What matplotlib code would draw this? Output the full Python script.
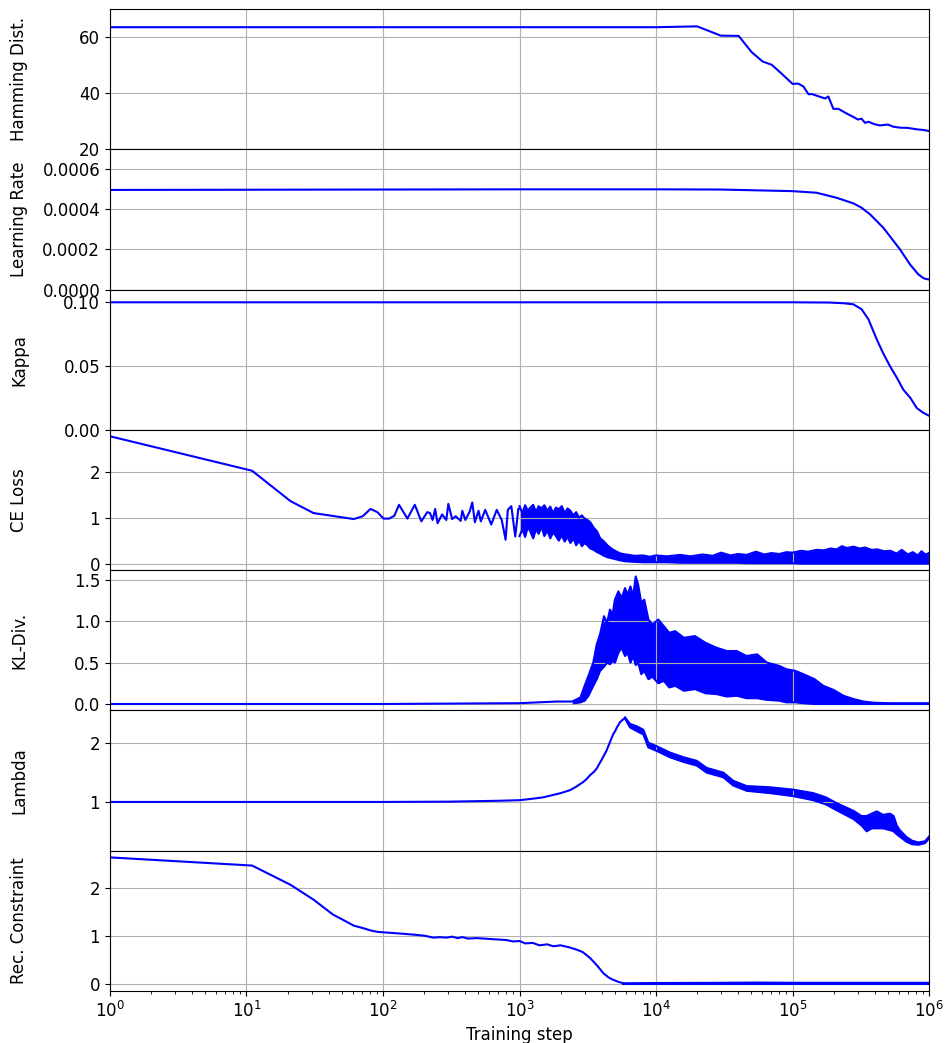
import matplotlib
matplotlib.use("Agg")
import matplotlib.pyplot as plt

# Hamming distance
ham_steps = [1, 1e4, 2.0e4, 2.98e4, 4.03e4, 5.02e4, 6.03e4, 7.04e4, 8.34e4, 1.0e5, 1.1e5, 1.2e5,
             1.31e5, 1.38e5, 1.73e5, 1.83e5, 1.99e5, 2.17e5, 2.5e5, 2.87e5, 3.0e5, 3.2e5, 3.4e5,
             3.6e5, 4.0e5, 4.37e5, 5e5, 5.5e5, 6.13e5, 7e5, 8.13e5, 9e5, 1e6]
ham_vals = [63.5, 63.5, 63.8, 60.5, 60.4, 54.6, 51.3, 50.1, 46.9, 43.3, 43.4, 42.4,
            39.6, 39.7, 38.1, 38.8, 34.4, 34.4, 32.7, 31.2, 30.6, 30.9, 29.4,
            29.8, 28.9, 28.5, 28.8, 28.0, 27.7, 27.6, 27.1, 26.9, 26.5]

# learning rate
lr_steps = [1, 10, 100, 1e3, 1e4, 3e4, 1e5, 1.5e5, 2.1e5, 2.79e5, 3.21e5, 3.7e5, 4.63e5,
            6.13e5, 7.26e5, 8.36e5, 9.2e5, 1e6]
lr_vals = [0.000497, 0.000498, 0.000499, 0.0005, 0.0005, 0.000499, 0.000491, 0.000483, 0.000458,
           0.00043, 0.000408, 0.000375, 0.000308, 0.0002, 0.000125, 0.000075, 0.000055, 0.00005]

# kappa
kappa_steps = [1, 1e5, 1.88e5, 2.4e5, 2.79e5, 3.21e5, 3.6e5, 4.14e5, 4.6e5, 5.18e5, 5.8e5,
               6.48e5, 7.3e5, 8.13e5, 9e5, 1e6]
kappa_vals = [0.1, 0.1, 0.0998, 0.0992, 0.0984, 0.0945, 0.0866, 0.0709, 0.0603, 0.0498, 0.041,
              0.0315, 0.025, 0.0171, 0.0136, 0.011]

# CE loss: sparse part as a trace, dense part as min/max band
ce_steps = [1, 11, 21, 31, 61, 71, 81, 91, 101, 111, 121, 131, 151, 171, 191, 211, 221, 231,
            241, 251, 271, 291, 301, 321, 341, 371, 381, 401, 431, 451, 471, 501, 521, 561,
            621, 681, 741, 791, 821, 871, 931, 981, 1000]
ce_vals = [2.77, 2.02, 1.36, 1.10, 0.97, 1.03, 1.19, 1.12, 0.98, 0.98, 1.04, 1.28, 0.98, 1.28,
           0.92, 1.12, 1.10, 0.95, 1.19, 0.88, 1.07, 0.95, 1.30, 0.97, 1.03, 0.93, 1.15, 0.95,
           1.13, 1.33, 0.90, 1.15, 0.92, 1.17, 0.85, 1.17, 0.95, 0.52, 1.17, 1.25, 0.59, 1.2,
           1.2]
ce_band_steps = [1000, 1050, 1100, 1150, 1200, 1260, 1320, 1380, 1450, 1520, 1600, 1680, 1760,
                 1850, 1940, 2040, 2140, 2250, 2360, 2480, 2600, 2730, 2860, 3000, 3140,
                 3300, 3500, 3700, 3900, 4100, 4400, 4700, 5000, 5500, 6000, 7000, 8000, 9000,
                 1e4, 1.2e4, 1.5e4, 1.8e4, 2.2e4, 2.6e4, 3e4, 3.5e4, 4e4, 4.6e4, 5.4e4, 6.2e4,
                 7e4, 8e4, 9e4, 1e5, 1.15e5, 1.3e5, 1.5e5, 1.7e5, 1.9e5, 2.1e5, 2.3e5, 2.5e5,
                 2.8e5, 3.1e5, 3.4e5, 3.8e5, 4.2e5, 4.7e5, 5.2e5, 5.8e5, 6.3e5, 7e5, 7.6e5,
                 8.3e5, 8.8e5, 9.4e5, 1e6]
ce_hi = [1.25, 1.1, 1.27, 1.15, 1.22, 1.28, 1.12, 1.25, 1.2, 1.27, 1.15, 1.24, 1.1,
         1.22, 1.18, 1.25, 1.1, 1.2, 1.15, 1.05, 1.12, 1.0, 1.05, 0.98, 0.95,
         0.9, 0.78, 0.7, 0.55, 0.5, 0.4, 0.33, 0.28, 0.22, 0.2, 0.17, 0.18, 0.15,
         0.18, 0.16, 0.19, 0.16, 0.2, 0.17, 0.24, 0.18, 0.21, 0.19, 0.26, 0.2,
         0.23, 0.21, 0.25, 0.24, 0.28, 0.26, 0.3, 0.29, 0.33, 0.31, 0.38, 0.34,
         0.37, 0.33, 0.35, 0.3, 0.31, 0.27, 0.28, 0.22, 0.3, 0.2, 0.25,
         0.18, 0.27, 0.2, 0.23]
ce_lo = [0.6, 0.75, 0.58, 0.8, 0.7, 0.55, 0.75, 0.65, 0.8, 0.6, 0.72, 0.55, 0.68,
         0.6, 0.5, 0.62, 0.48, 0.58, 0.45, 0.55, 0.4, 0.5, 0.38, 0.45, 0.4,
         0.33, 0.3, 0.25, 0.22, 0.18, 0.14, 0.12, 0.1, 0.07, 0.05, 0.04, 0.03, 0.03,
         0.03, 0.03, 0.02, 0.02, 0.02, 0.02, 0.02, 0.02, 0.02, 0.01, 0.01, 0.01,
         0.01, 0.01, 0.01, 0.01, 0.0, 0.0, 0.0, 0.0, 0.0, 0.0, 0.0, 0.0,
         0.0, 0.0, 0.0, 0.0, 0.0, 0.0, 0.0, 0.0, 0.0, 0.0, 0.0,
         0.0, 0.0, 0.0, 0.0]

# KL divergence
kl_steps = [1, 100, 300, 1000, 1870, 2200, 2500]
kl_vals = [0.0, 0.0, 0.005, 0.01, 0.03, 0.03, 0.03]
kl_band_steps = [2500, 2800, 3000, 3200, 3470, 3680, 3890, 4160, 4380, 4600, 4800, 5000, 5300,
                 5600, 5930, 6200, 6500, 6800, 7100, 7400, 7800, 8200, 8800, 9400, 1.04e4,
                 1.14e4, 1.25e4, 1.38e4, 1.6e4, 1.93e4, 2.3e4, 2.77e4, 3.3e4, 3.9e4, 4.6e4,
                 5.5e4, 6.5e4, 8e4, 9e4, 1.05e5, 1.2e5, 1.45e5, 1.68e5, 2e5, 2.36e5, 2.8e5,
                 3.3e5, 4e5, 5e5, 1e6]
kl_hi = [0.04, 0.08, 0.22, 0.34, 0.5, 0.72, 0.84, 1.06, 0.98, 1.14, 1.08, 1.26, 1.36,
         1.28, 1.40, 1.32, 1.42, 1.30, 1.54, 1.44, 1.22, 1.26, 1.02, 0.96, 1.02,
         0.94, 0.86, 0.88, 0.80, 0.82, 0.74, 0.68, 0.64, 0.64, 0.58,
         0.60, 0.50, 0.46, 0.42, 0.40, 0.36, 0.30, 0.22, 0.17, 0.10, 0.06,
         0.03, 0.015, 0.01, 0.01]
kl_lo = [0.01, 0.02, 0.04, 0.1, 0.22, 0.3, 0.4, 0.45, 0.5, 0.48, 0.52, 0.5, 0.62,
         0.68, 0.58, 0.62, 0.5, 0.58, 0.47, 0.5, 0.36, 0.4, 0.3, 0.33, 0.25,
         0.28, 0.2, 0.22, 0.16, 0.18, 0.13, 0.12, 0.09, 0.1, 0.07,
         0.07, 0.05, 0.04, 0.02, 0.02, 0.01, 0.0, 0.0, 0.0, 0.0, 0.0,
         0.0, 0.0, 0.0, 0.0]

# lambda
lam_steps = [1, 10, 100, 300, 700, 1000, 1300, 1500, 1770, 2000, 2340, 2600, 2930, 3100, 3300,
             3500, 3680, 3800, 4000, 4150, 4350, 4600, 4870, 5000, 5200, 5450, 5700, 5930]
lam_vals = [1.0, 1.0, 1.0, 1.005, 1.02, 1.03, 1.06, 1.08, 1.12, 1.15, 1.2, 1.26, 1.34, 1.39, 1.46,
            1.51, 1.57, 1.63, 1.72, 1.79, 1.88, 2.02, 2.16, 2.2, 2.28, 2.36, 2.40, 2.43]
lam_band_steps = [5930, 6450, 7200, 8080, 8780, 1.01e4, 1.27e4, 1.6e4, 1.99e4, 2.35e4, 3.11e4,
                  3.68e4, 4.62e4, 6.84e4, 1.01e5, 1.42e5, 1.75e5, 2.1e5, 2.79e5, 3.2e5, 3.49e5,
                  3.8e5, 4.14e5, 4.6e5, 5.18e5, 5.5e5, 5.8e5, 6.1e5, 6.86e5, 7.5e5, 8.36e5,
                  9.35e5, 1e6]
lam_hi = [2.44, 2.33, 2.29, 2.23, 2.01, 1.95, 1.84, 1.76, 1.70, 1.58, 1.50,
          1.36, 1.27, 1.25, 1.21, 1.15, 1.08, 0.98, 0.85, 0.76, 0.76,
          0.80, 0.84, 0.78, 0.80, 0.76, 0.60, 0.52, 0.40, 0.34, 0.31,
          0.33, 0.41]
lam_lo = [2.42, 2.27, 2.21, 2.15, 1.93, 1.87, 1.76, 1.68, 1.62, 1.50, 1.42,
          1.28, 1.19, 1.15, 1.10, 1.03, 0.96, 0.86, 0.71, 0.60, 0.50,
          0.55, 0.55, 0.55, 0.52, 0.50, 0.45, 0.41, 0.32, 0.28, 0.27,
          0.30, 0.38]

# reconstruction constraint
rec_steps = [1, 11, 21, 31, 43, 51, 61, 71, 81, 91, 101, 141, 171, 201, 234, 261, 291, 321, 351,
             381, 421, 486, 550, 620, 700, 800, 900, 1000, 1100, 1250, 1400, 1600, 1770, 2000,
             2300, 2620, 2900, 3280, 3700, 4110, 4500, 4870, 5300, 5760]
rec_vals = [2.63, 2.46, 2.06, 1.75, 1.44, 1.33, 1.21, 1.16, 1.11, 1.08, 1.07, 1.04, 1.02, 1.0,
            0.96, 0.97, 0.96, 0.98, 0.95, 0.97, 0.94, 0.95, 0.94, 0.93, 0.92, 0.91, 0.88, 0.89,
            0.84, 0.85, 0.80, 0.82, 0.78, 0.80, 0.76, 0.71, 0.66, 0.54, 0.38, 0.22, 0.13, 0.08,
            0.04, 0.01]
rec_band_steps = [5760, 1e4, 3e4, 5.5e4, 1e5, 3e5, 1e6]
rec_hi = [0.01, 0.015, 0.02, 0.025, 0.02, 0.02, 0.02]
rec_lo = [0.0, 0.0, 0.0, 0.0, 0.0, 0.0, 0.0]

plt.rcParams["font.size"] = 12

fig, axes = plt.subplots(7, 1, sharex=True, figsize=(9.48, 10.43), dpi=100)
fig.subplots_adjust(left=0.116, right=0.98, top=0.9914, bottom=0.0499, hspace=0)

c = "blue"


def band(ax, steps, lo, hi):
    ax.fill_between(steps, lo, hi, color=c, lw=0)
    ax.plot(steps, lo, color=c, lw=1.5)
    ax.plot(steps, hi, color=c, lw=1.5)


ax = axes[0]
ax.plot(ham_steps, ham_vals, color=c, lw=1.5)
ax.set_ylim(20, 70)
ax.set_ylabel("Hamming Dist.")

ax = axes[1]
ax.plot(lr_steps, lr_vals, color=c, lw=1.5)
ax.set_ylim(0, 0.0007)
ax.set_yticks([0, 0.0002, 0.0004, 0.0006])
ax.set_yticklabels(["0.0000", "0.0002", "0.0004", "0.0006"])
ax.set_ylabel("Learning Rate")

ax = axes[2]
ax.plot(kappa_steps, kappa_vals, color=c, lw=1.5)
ax.set_ylim(0, 0.11)
ax.set_yticks([0, 0.05, 0.10])
ax.set_yticklabels(["0.00", "0.05", "0.10"])
ax.set_ylabel("Kappa")

ax = axes[3]
ax.plot(ce_steps, ce_vals, color=c, lw=1.5)
band(ax, ce_band_steps, ce_lo, ce_hi)
ax.set_ylim(-0.14, 2.91)
ax.set_yticks([0, 1, 2])
ax.set_ylabel("CE Loss")

ax = axes[4]
ax.plot(kl_steps, kl_vals, color=c, lw=1.5)
band(ax, kl_band_steps, kl_lo, kl_hi)
ax.set_ylim(-0.077, 1.617)
ax.set_yticks([0, 0.5, 1.0, 1.5])
ax.set_ylabel("KL-Div.")

ax = axes[5]
ax.plot(lam_steps, lam_vals, color=c, lw=1.5)
band(ax, lam_band_steps, lam_lo, lam_hi)
ax.set_ylim(0.17, 2.56)
ax.set_yticks([1, 2])
ax.set_ylabel("Lambda")

ax = axes[6]
ax.plot(rec_steps, rec_vals, color=c, lw=1.5)
band(ax, rec_band_steps, rec_lo, rec_hi)
ax.set_ylim(-0.15, 2.77)
ax.set_yticks([0, 1, 2])
ax.set_ylabel("Rec. Constraint")
ax.set_xlabel("Training step")

for i, ax in enumerate(axes):
    ax.set_xscale("log")
    ax.set_xlim(1, 1e6)
    ax.grid(True)
    ax.yaxis.set_label_coords(-0.1, 0.5)
    if i < 6:
        ax.tick_params(axis="x", which="both", bottom=False)

fig.savefig("out.png", dpi=100)
